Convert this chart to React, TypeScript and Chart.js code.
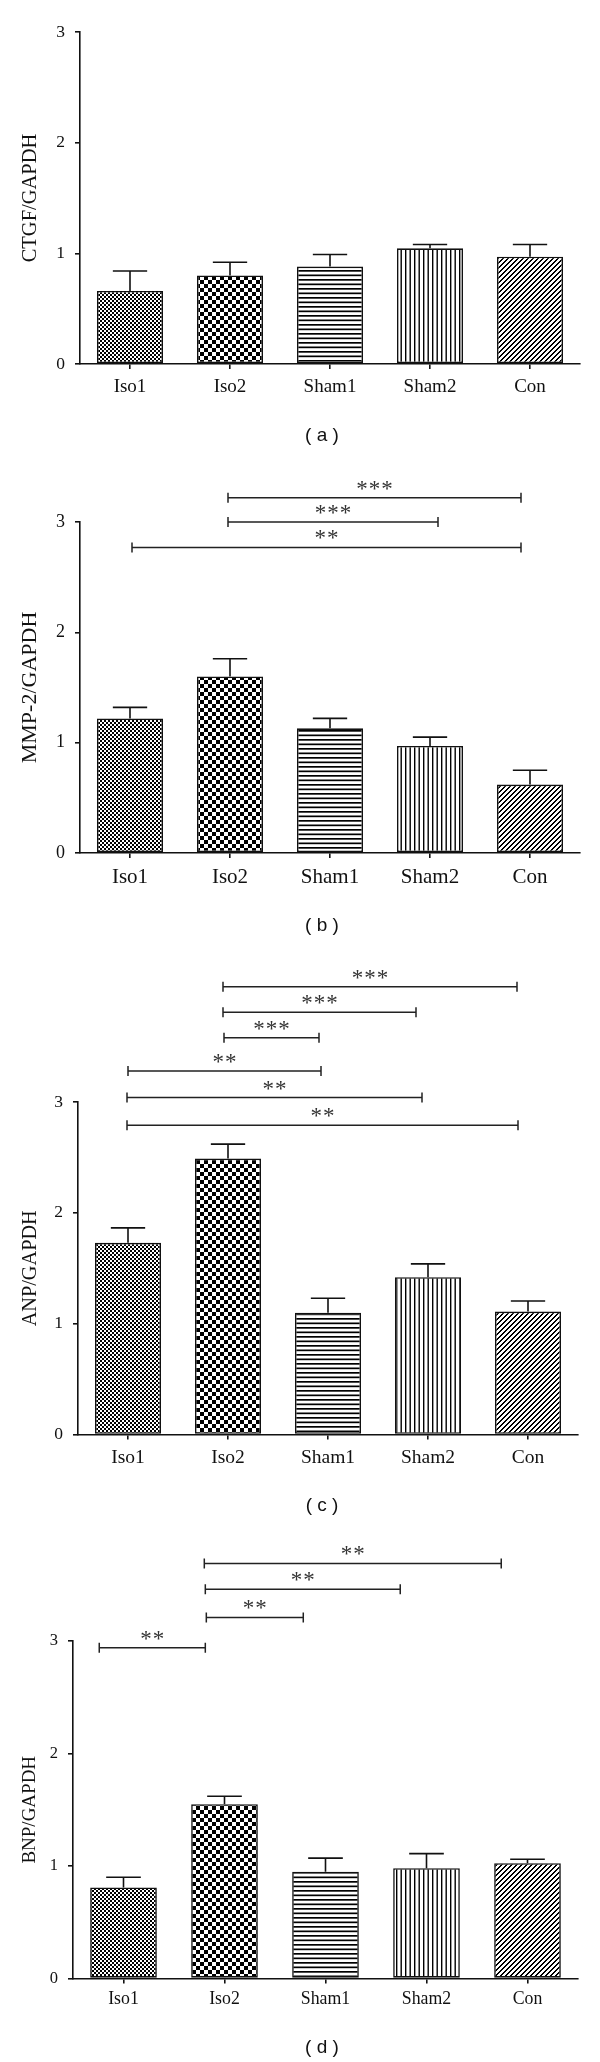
import React, { useEffect, useRef } from 'react';
import { Chart, registerables } from 'chart.js';

Chart.register(...registerables);

// ---------- data ----------
const categories = ['Iso1', 'Iso2', 'Sham1', 'Sham2', 'Con'];
const yTickMax = 3;

const ctgfMean = [0.66, 0.8, 0.88, 1.045, 0.97];
const ctgfSem = [0.18, 0.12, 0.11, 0.035, 0.11];

const mmp2Mean = [1.22, 1.6, 1.13, 0.97, 0.62];
const mmp2Sem = [0.1, 0.16, 0.09, 0.08, 0.13];

const anpMean = [1.73, 2.49, 1.1, 1.42, 1.11];
const anpSem = [0.135, 0.13, 0.13, 0.12, 0.095];

const bnpMean = [0.81, 1.55, 0.95, 0.98, 1.025];
const bnpSem = [0.09, 0.07, 0.12, 0.13, 0.035];

// significance brackets: from / to (category index), level (y value), label
const mmp2From = [0.98, 0.98, 0.02];
const mmp2To = [3.91, 3.08, 3.91];
const mmp2Level = [3.22, 3.0, 2.77];
const mmp2Stars = ['***', '***', '**'];

const anpFrom = [0.95, 0.95, 0.96, 0.0, -0.01, -0.01];
const anpTo = [3.89, 2.88, 1.91, 1.93, 2.94, 3.9];
const anpLevel = [4.04, 3.81, 3.58, 3.28, 3.04, 2.79];
const anpStars = ['***', '***', '***', '**', '**', '**'];

const bnpFrom = [0.8, 0.81, 0.82, -0.24];
const bnpTo = [3.74, 2.74, 1.78, 0.81];
const bnpLevel = [3.69, 3.46, 3.21, 2.94];
const bnpStars = ['**', '**', '**', '**'];

const panelLabels = ['( a )', '( b )', '( c )', '( d )'];

// ---------- helpers ----------
const SERIF = '"Liberation Serif", "Times New Roman", serif';
const INK = '#111';

function makeTile(size: number, draw: (c: CanvasRenderingContext2D, s: number) => void) {
  const t = document.createElement('canvas');
  t.width = size;
  t.height = size;
  const c = t.getContext('2d')!;
  c.fillStyle = '#fff';
  c.fillRect(0, 0, size, size);
  c.fillStyle = '#000';
  draw(c, size);
  return t;
}

function makePatterns(ctx: CanvasRenderingContext2D) {
  const fine = makeTile(4, (c) => {
    c.fillRect(0, 0, 2, 2);
    c.fillRect(2, 2, 2, 2);
  });
  const coarse = makeTile(8, (c) => {
    c.fillRect(0, 0, 4, 4);
    c.fillRect(4, 4, 4, 4);
  });
  const horiz = makeTile(9, (c) => {
    c.fillRect(0, 0, 9, 1.7);
    c.fillRect(0, 4.5, 9, 1.7);
  });
  const vert = makeTile(9, (c) => {
    c.fillRect(0, 0, 1.4, 9);
    c.fillRect(4.5, 0, 1.4, 9);
  });
  const diag = makeTile(5, (c, s) => {
    for (let x = 0; x < s; x++) {
      for (let y = 0; y < s; y++) {
        if ((x + y) % 5 < 2) c.fillRect(x, y, 1, 1);
      }
    }
  });
  return [fine, coarse, horiz, vert, diag].map((t) => ctx.createPattern(t, 'repeat')!);
}

function overlayPlugin(sem: number[], from: number[], to: number[], level: number[], stars: string[]) {
  return {
    id: 'overlay',
    afterDatasetsDraw(chart: any) {
      const ctx: CanvasRenderingContext2D = chart.ctx;
      const xs = chart.scales.x;
      const ys = chart.scales.y;
      const means = chart.data.datasets[0].data as number[];
      const meta = chart.getDatasetMeta(0);
      ctx.save();
      ctx.strokeStyle = INK;
      ctx.lineWidth = 1.6;
      meta.data.forEach((el: any, i: number) => {
        const top = ys.getPixelForValue(means[i] + sem[i]);
        const half = el.width * 0.26;
        ctx.beginPath();
        ctx.moveTo(el.x, el.y);
        ctx.lineTo(el.x, top);
        ctx.moveTo(el.x - half, top);
        ctx.lineTo(el.x + half, top);
        ctx.stroke();
      });
      ctx.strokeStyle = '#222';
      ctx.lineWidth = 1.5;
      ctx.fillStyle = '#333';
      ctx.font = `23px ${SERIF}`;
      ctx.textAlign = 'center';
      ctx.textBaseline = 'alphabetic';
      for (let k = 0; k < from.length; k++) {
        const x1 = xs.getPixelForValue(from[k]);
        const x2 = xs.getPixelForValue(to[k]);
        const y = ys.getPixelForValue(level[k]);
        ctx.beginPath();
        ctx.moveTo(x1, y);
        ctx.lineTo(x2, y);
        ctx.moveTo(x1, y - 5);
        ctx.lineTo(x1, y + 5);
        ctx.moveTo(x2, y - 5);
        ctx.lineTo(x2, y + 5);
        ctx.stroke();
        const n = stars[k].length;
        const cx = (x1 + x2) / 2;
        const step = 12.5;
        for (let j = 0; j < n; j++) {
          ctx.fillText('*', cx - ((n - 1) * step) / 2 + j * step, y - 2);
        }
      }
      ctx.restore();
    },
  };
}

type PanelProps = {
  top: number;
  height: number;
  chartTop: number;
  xHeight: number;
  yWidth: number;
  right: number;
  title: string;
  titleSize: number;
  tickSize: number;
  yTickSize: number;
  xPad: number;
  mean: number[];
  sem: number[];
  from: number[];
  to: number[];
  level: number[];
  stars: string[];
};

function Panel(p: PanelProps) {
  const ref = useRef<HTMLCanvasElement>(null);
  useEffect(() => {
    const canvas = ref.current!;
    const ctx = canvas.getContext('2d')!;
    const patterns = makePatterns(ctx);
    const chart = new Chart(canvas, {
      type: 'bar',
      data: {
        labels: categories,
        datasets: [
          {
            data: p.mean,
            backgroundColor: patterns as any,
            borderColor: INK,
            borderWidth: 1.6,
            borderSkipped: false,
            barPercentage: 0.66,
            categoryPercentage: 1,
          },
        ],
      },
      options: {
        responsive: false,
        animation: false,
        devicePixelRatio: 1,
        layout: { padding: { top: p.chartTop, right: p.right, left: 0, bottom: 0 } },
        plugins: { legend: { display: false }, tooltip: { enabled: false } },
        scales: {
          x: {
            grid: {
              display: true,
              drawOnChartArea: false,
              drawTicks: true,
              tickLength: 5,
              offset: false,
              color: INK,
              lineWidth: 1.6,
            },
            border: { display: true, color: INK, width: 1.6 },
            ticks: {
              color: INK,
              font: { family: SERIF, size: p.tickSize },
              padding: p.xPad,
              autoSkip: false,
              maxRotation: 0,
            },
            afterFit: (s: any) => {
              s.height = p.xHeight;
            },
          },
          y: {
            min: 0,
            max: yTickMax,
            grid: {
              display: true,
              drawOnChartArea: false,
              drawTicks: true,
              tickLength: 5,
              color: INK,
              lineWidth: 1.6,
            },
            border: { display: true, color: INK, width: 1.6 },
            ticks: {
              stepSize: 1,
              color: INK,
              font: { family: SERIF, size: p.yTickSize },
              padding: 10,
            },
            title: {
              display: true,
              text: p.title,
              color: INK,
              font: { family: SERIF, size: p.titleSize },
              padding: { top: 30.5 - 0.6 * p.titleSize, bottom: 0 },
            },
            afterFit: (s: any) => {
              s.width = p.yWidth;
            },
          },
        },
      },
      plugins: [overlayPlugin(p.sem, p.from, p.to, p.level, p.stars)],
    } as any);
    return () => chart.destroy();
  }, []);
  return (
    <div style={{ position: 'absolute', left: 0, top: p.top, width: 600, height: p.height }}>
      <canvas ref={ref} width={600} height={p.height} style={{ display: 'block', width: 600, height: p.height }} />
    </div>
  );
}

const labelCenters = [435, 925, 1505, 2047];

export default function App() {
  return (
    <div style={{ position: 'absolute', left: 0, top: 0, width: 600, height: 2062, background: '#fff', overflow: 'hidden' }}>
      <Panel
        top={0} height={460} chartTop={32} xHeight={96} yWidth={80} right={20}
        title="CTGF/GAPDH" titleSize={20.5} tickSize={19} yTickSize={17.5} xPad={6.5}
        mean={ctgfMean} sem={ctgfSem} from={[]} to={[]} level={[]} stars={[]}
      />
      <Panel
        top={460} height={480} chartTop={62} xHeight={87} yWidth={80} right={20}
        title="MMP-2/GAPDH" titleSize={22} tickSize={21} yTickSize={18} xPad={6.5}
        mean={mmp2Mean} sem={mmp2Sem} from={mmp2From} to={mmp2To} level={mmp2Level} stars={mmp2Stars}
      />
      <Panel
        top={940} height={590} chartTop={162} xHeight={95.4} yWidth={78} right={22}
        title="ANP/GAPDH" titleSize={20.3} tickSize={19.5} yTickSize={17.5} xPad={6.5}
        mean={anpMean} sem={anpSem} from={anpFrom} to={anpTo} level={anpLevel} stars={anpStars}
      />
      <Panel
        top={1530} height={532} chartTop={111} xHeight={83.5} yWidth={73} right={22}
        title="BNP/GAPDH" titleSize={19} tickSize={17.8} yTickSize={16.5} xPad={5.5}
        mean={bnpMean} sem={bnpSem} from={bnpFrom} to={bnpTo} level={bnpLevel} stars={bnpStars}
      />
      {panelLabels.map((t, i) => (
        <div
          key={t}
          style={{
            position: 'absolute',
            left: 0,
            width: 644,
            top: labelCenters[i] - 11,
            height: 22,
            lineHeight: '22px',
            textAlign: 'center',
            fontFamily: '"Liberation Sans", Arial, sans-serif',
            fontSize: 19,
            color: '#111',
            whiteSpace: 'pre',
          }}
        >
          {t}
        </div>
      ))}
    </div>
  );
}
